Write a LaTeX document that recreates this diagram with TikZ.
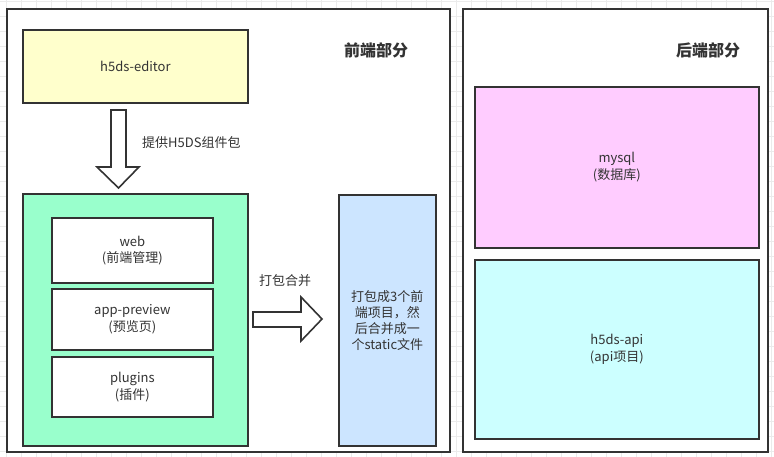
\documentclass[tikz,border=0pt]{standalone}
\usepackage{fontspec}
\setmainfont{Noto Sans CJK SC}
\definecolor{ink}{HTML}{333333}
\definecolor{txt}{HTML}{333333}
\definecolor{gridc}{HTML}{EBEBEB}
\definecolor{cyellow}{HTML}{FFFFCC}
\definecolor{cgreen}{HTML}{99FFCC}
\definecolor{cblue}{HTML}{CCE5FF}
\definecolor{cpink}{HTML}{FFCCFF}
\definecolor{ccyan}{HTML}{CCFFFF}
\tikzset{
  frame/.style={draw=ink, line width=2.2pt, fill=white},
  box/.style={draw=ink, line width=1.7pt, rectangle, inner sep=0pt, anchor=north west,
    text=txt, align=center, font=\fontsize{13}{16.5}\selectfont},
  blockarrow/.style={draw=ink, line width=1.6pt, fill=white, line join=miter},
  lbl/.style={text=txt, inner sep=0pt, font=\fontsize{13}{16}\selectfont},
  title/.style={text=txt, inner sep=0pt, font=\fontsize{16}{16}\selectfont\bfseries},
  gridline/.style={draw=gridc, line width=0.8pt}
}
\begin{document}
\begin{tikzpicture}[x=1pt,y=-1pt]
\useasboundingbox (0,0) rectangle (774,457);
\fill[white] (0,0) rectangle (774,457);
\foreach \i in {0,...,51} \draw[gridline] (6.5+15*\i,0) -- (6.5+15*\i,457);
\foreach \j in {0,...,30} \draw[gridline] (0,1+15*\j) -- (774,1+15*\j);
% frames
\draw[frame] (7,9) rectangle (450,452);
\draw[frame] (463,9) rectangle (768,452);
\node[title] (tfront) at (376,50) {前端部分};
\node[title] (tback) at (708,50) {后端部分};
% front end
\node[box, fill=cyellow, minimum width=225pt, minimum height=73pt] (editor) at (22,29) {h5ds-editor};
\draw[blockarrow] (111,110) -- (126,110) -- (126,167) -- (139,167) -- (118.5,188) -- (97,167) -- (111,167) -- cycle;
\node[lbl, anchor=west] (provide) at (142,143) {提供H5DS组件包};
\node[box, fill=cgreen, minimum width=225pt, minimum height=252pt] (green) at (22,193) {};
\node[box, fill=white, minimum width=161pt, minimum height=65pt] (web) at (51,217) {web\\(前端管理)};
\node[box, fill=white, minimum width=161pt, minimum height=61pt] (preview) at (51,288) {app-preview\\(预览页)};
\node[box, fill=white, minimum width=161pt, minimum height=60pt] (plugins) at (51,356) {plugins\\(插件)};
\draw[blockarrow] (253,312) -- (301,312) -- (301,297) -- (322,319) -- (301,341) -- (301,327) -- (253,327) -- cycle;
\node[lbl] (merge) at (285,281) {打包合并};
\node[box, fill=cblue, minimum width=97pt, minimum height=251pt] (static) at (338,194) {};
\node[lbl, align=center, font=\fontsize{13}{16}\selectfont] (statictxt) at (static.center) {打包成3个前\\端项目，然\\后合并成一\\个static文件};
% back end
\node[box, fill=cpink, minimum width=284pt, minimum height=161pt] (mysql) at (474,86) {mysql\\(数据库)};
\node[box, fill=ccyan, minimum width=284pt, minimum height=179pt] (api) at (474,259) {h5ds-api\\(api项目)};
\end{tikzpicture}
\end{document}
